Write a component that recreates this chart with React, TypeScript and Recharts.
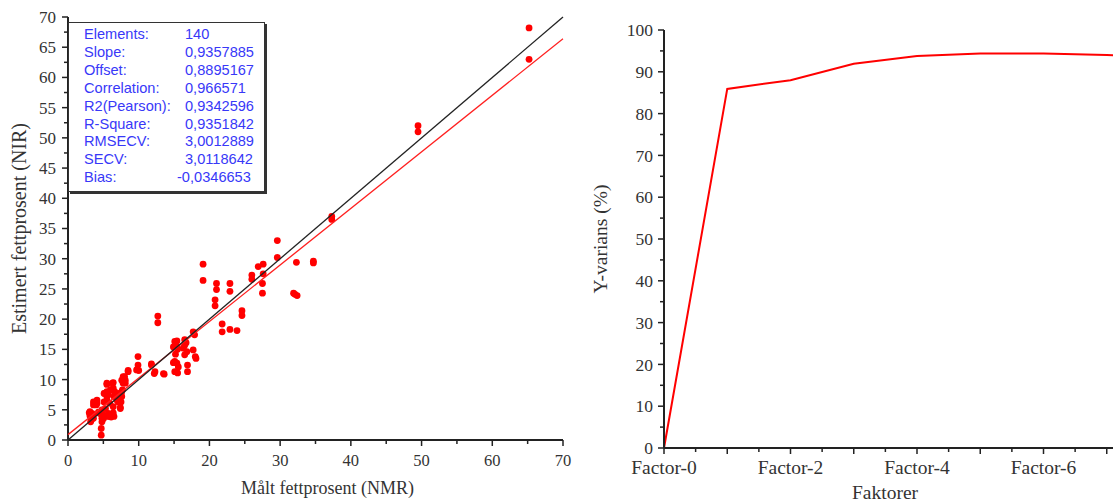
import {
  ScatterChart, Scatter, LineChart, Line, XAxis, YAxis, Label
} from "recharts";

// Measured (NMR) vs estimated (NIR) fat percentage, one entry per sample
const nmrValues = [
  4.7, 4.7, 4.8, 3.1, 3.6, 3.3, 3.1, 3.4, 3.0, 3.3, 3.2, 3.6, 4.1, 3.6, 4.1,
  4.5, 4.8, 4.8, 5.0, 5.5, 5.0, 4.3, 5.7, 6.2, 6.4, 6.1, 6.5, 5.9, 5.1, 5.5,
  5.9, 6.4, 5.2, 5.5, 5.7, 5.5, 5.1, 5.5, 6.4, 6.3, 5.5, 6.2, 6.6, 6.0, 6.4,
  6.5, 6.9, 7.2, 7.1, 7.4, 7.5, 7.3, 7.4, 7.6, 7.6, 7.7, 7.8, 8.1, 8.0, 7.8,
  7.6, 8.1, 8.5, 8.5, 9.9, 9.9, 9.7, 10.0, 11.8, 12.3, 12.2, 11.8, 13.5, 13.6,
  12.7, 12.7, 15.1, 15.4, 15.1, 15.4, 15.1, 15.6, 14.9, 15.5, 15.4, 14.9, 15.5,
  16.5, 16.5, 16.8, 16.5, 16.3, 16.7, 16.9, 16.9, 17.7, 18.0, 18.1, 17.7, 17.9,
  19.1, 19.1, 21.0, 21.0, 20.8, 20.8, 22.9, 22.9, 21.8, 21.8, 22.9, 23.9, 24.6,
  24.6, 26.0, 26.0, 26.9, 27.6, 27.5, 27.5, 27.6, 29.6, 29.6, 31.9, 32.4, 32.1,
  32.3, 34.7, 34.7, 37.3, 37.3, 49.5, 49.5, 65.2, 65.2, 3.5, 4.0, 6.8, 5.3, 15.2,
];
const nirValues = [
  0.8, 1.9, 3.0, 4.0, 3.6, 3.3, 4.7, 4.4, 4.5, 4.1, 3.0, 6.3, 6.6, 5.8, 6.1,
  4.4, 5.0, 3.6, 4.1, 3.9, 3.5, 4.6, 4.4, 4.1, 4.5, 3.8, 3.9, 3.9, 6.3, 6.6,
  6.1, 5.5, 7.7, 8.0, 7.5, 7.2, 7.7, 9.2, 9.5, 9.4, 9.4, 8.3, 8.0, 8.3, 8.6,
  7.2, 6.6, 7.7, 6.3, 5.2, 6.3, 6.9, 5.4, 7.2, 8.0, 8.3, 9.4, 9.9, 10.5, 10.5,
  9.9, 9.4, 11.3, 11.5, 13.8, 12.4, 11.6, 11.5, 12.4, 11.3, 11.0, 12.6, 11.0, 10.9,
  20.5, 19.4, 16.3, 15.4, 13.0, 12.7, 11.3, 12.1, 15.4, 15.0, 16.4, 12.8, 11.1,
  16.6, 15.7, 14.6, 14.1, 15.2, 16.1, 12.4, 11.3, 14.9, 13.8, 13.5, 17.9, 17.4,
  29.1, 26.4, 25.9, 24.9, 23.2, 22.2, 25.9, 24.6, 19.2, 17.9, 18.3, 18.1, 21.4,
  20.6, 27.3, 26.6, 28.7, 29.1, 25.9, 24.3, 27.5, 30.2, 33.0, 24.3, 23.9, 24.1,
  29.4, 29.6, 29.3, 37.0, 36.5, 52.0, 51.0, 68.2, 63.0, 4.2, 5.8, 7.4, 5.2, 14.2,
];

const statLabels = [
  "Elements:", "Slope:", "Offset:", "Correlation:", "R2(Pearson):",
  "R-Square:", "RMSECV:", "SECV:", "Bias:",
];
const statValues = [
  "140", "0,9357885", "0,8895167", "0,966571", "0,9342596",
  "0,9351842", "3,0012889", "3,0118642", "-0,0346653",
];
const slope = 0.9357885;
const offset = 0.8895167;

const fatTicksX = [0, 5, 10, 15, 20, 25, 30, 35, 40, 45, 50, 55, 60, 65, 70];
const fatTicksY = [
  0, 2.5, 5, 7.5, 10, 12.5, 15, 17.5, 20, 22.5, 25, 27.5, 30, 32.5, 35,
  37.5, 40, 42.5, 45, 47.5, 50, 52.5, 55, 57.5, 60, 62.5, 65, 67.5, 70,
];

// Explained Y-variance per number of PLS factors
const factorLabels = [
  "Factor-0", "Factor-1", "Factor-2", "Factor-3", "Factor-4",
  "Factor-5", "Factor-6", "Factor-7", "Factor-8",
];
const yVariance = [0, 85.9, 88.0, 91.9, 93.8, 94.4, 94.4, 94.0, 93.8];
const factorTicks = [
  0, 0.5, 1, 1.5, 2, 2.5, 3, 3.5, 4, 4.5, 5, 5.5, 6, 6.5, 7, 7.5, 8,
];
const varianceTicks = [
  0, 5, 10, 15, 20, 25, 30, 35, 40, 45, 50, 55, 60, 65, 70, 75, 80, 85, 90, 95, 100,
];

const SERIF = "'Liberation Serif', 'Times New Roman', serif";
const SANS = "'Liberation Sans', Arial, sans-serif";
const AXIS = "#222";
const TEXT = "#333";

const samples = nmrValues.map((x, i) => ({ x, y: nirValues[i] }));
const identityLine = [{ x: 0, y: 0 }, { x: 70, y: 70 }];
const fitLine = [0, 70].map((x) => ({ x, y: slope * x + offset }));
const varianceData = yVariance.map((v, i) => ({ x: i, v }));

const noShape = () => <g />;

// Bottom ticks: long mark + label on majors, short mark on minors
const bottomTick = (isMajor: (v: number) => boolean, label: (v: number) => string, fontSize: number, dy: number) =>
  (props: any) => {
    const { x, y, payload } = props;
    const major = isMajor(payload.value);
    const text = major ? label(payload.value) : "";
    return (
      <g>
        <line x1={x} x2={x} y1={y} y2={y + (major ? 6 : 4)} stroke={AXIS} strokeWidth={1.5} />
        {text && (
          <text x={x} y={y + dy} textAnchor="middle" fontSize={fontSize} fill={TEXT} fontFamily={SERIF}>
            {text}
          </text>
        )}
      </g>
    );
  };

const leftTick = (isMajor: (v: number) => boolean, fontSize: number, gap: number) =>
  (props: any) => {
    const { x, y, payload } = props;
    const major = isMajor(payload.value);
    return (
      <g>
        <line x1={x} x2={x - (major ? 6 : 4)} y1={y} y2={y} stroke={AXIS} strokeWidth={1.5} />
        {major && (
          <text x={x - gap} y={y} dy="0.35em" textAnchor="end" fontSize={fontSize} fill={TEXT} fontFamily={SERIF}>
            {payload.value}
          </text>
        )}
      </g>
    );
  };

function StatsBox() {
  return (
    <div
      style={{
        position: "absolute", left: 68, top: 22, width: 195, height: 168,
        border: "1px solid #333", boxShadow: "2px 2px 0 #333", background: "#fff",
        fontFamily: SANS, fontSize: 14.6, color: "#3838f8",
      }}
    >
      {statLabels.map((lab, i) => (
        <div key={lab} style={{ position: "absolute", top: 2 + i * 17.9, left: 0, height: 18, lineHeight: "18px", width: "100%" }}>
          <span style={{ position: "absolute", left: 15 }}>{lab}</span>
          <span style={{ position: "absolute", left: statValues[i].startsWith("-") ? 108 : 116 }}>{statValues[i]}</span>
        </div>
      ))}
    </div>
  );
}

export default function App() {
  return (
    <div style={{ position: "absolute", left: 0, top: 0, width: 1113, height: 504, overflow: "hidden", background: "#fff" }}>
      <div style={{ position: "absolute", left: 0, top: 0 }}>
        <ScatterChart width={600} height={504} margin={{ top: 17, right: 37, left: 0, bottom: 0 }}>
          <XAxis
            type="number"
            dataKey="x"
            domain={[0, 70]}
            ticks={fatTicksX}
            interval={0}
            height={64}
            tickSize={0}
            tickMargin={0}
            tickLine={false}
            stroke={AXIS}
            strokeWidth={2}
            tick={bottomTick((v) => v % 10 === 0, (v) => String(v), 16.5, 26)}
          >
            <Label
              value="Målt fettprosent (NMR)"
              position="insideBottom"
              offset={10}
              dx={12}
              style={{ fontSize: 18, fill: TEXT, fontFamily: SERIF }}
            />
          </XAxis>
          <YAxis
            type="number"
            dataKey="y"
            domain={[0, 70]}
            ticks={fatTicksY}
            interval={0}
            width={68}
            tickSize={0}
            tickMargin={0}
            tickLine={false}
            stroke={AXIS}
            strokeWidth={2}
            tick={leftTick((v) => v % 5 === 0, 17, 12)}
          >
            <Label
              value="Estimert fettprosent (NIR)"
              angle={-90}
              position="insideLeft"
              offset={19}
              style={{ textAnchor: "middle", fontSize: 20, fill: TEXT, fontFamily: SERIF }}
            />
          </YAxis>
          <Scatter data={samples} fill="#ff0000" shape={(p: any) => <circle cx={p.cx} cy={p.cy} r={3.4} fill="#ff0000" />} isAnimationActive={false} />
          <Scatter data={fitLine} line={{ stroke: "#ff2020", strokeWidth: 1.3 }} shape={noShape} isAnimationActive={false} />
          <Scatter data={identityLine} line={{ stroke: "#222", strokeWidth: 1.3 }} shape={noShape} isAnimationActive={false} />
        </ScatterChart>
      </div>
      <StatsBox />
      <div style={{ position: "absolute", left: 580, top: 0 }}>
        <LineChart width={600} height={504} data={varianceData} margin={{ top: 30, right: 10, left: 0, bottom: 0 }}>
          <XAxis
            type="number"
            dataKey="x"
            domain={[0, 8]}
            ticks={factorTicks}
            interval={0}
            height={56}
            tickSize={0}
            tickMargin={0}
            tickLine={false}
            stroke={AXIS}
            strokeWidth={2}
            tick={bottomTick((v) => Number.isInteger(v), (v) => (v % 2 === 0 && v < 8 ? factorLabels[v] : ""), 19.5, 26)}
          >
            <Label
              value="Faktorer"
              position="insideBottom"
              offset={5}
              dx={-32}
              style={{ fontSize: 19.5, fill: TEXT, fontFamily: SERIF }}
            />
          </XAxis>
          <YAxis
            type="number"
            domain={[0, 100]}
            ticks={varianceTicks}
            interval={0}
            width={84}
            tickSize={0}
            tickMargin={0}
            tickLine={false}
            stroke={AXIS}
            strokeWidth={2}
            tick={leftTick((v) => v % 10 === 0, 17.5, 11)}
          >
            <Label
              value="Y-varians (%)"
              angle={-90}
              position="insideLeft"
              offset={20}
              style={{ textAnchor: "middle", fontSize: 19.5, fill: TEXT, fontFamily: SERIF }}
            />
          </YAxis>
          <Line type="linear" dataKey="v" stroke="#ff0000" strokeWidth={2} dot={false} isAnimationActive={false} />
        </LineChart>
      </div>
    </div>
  );
}
